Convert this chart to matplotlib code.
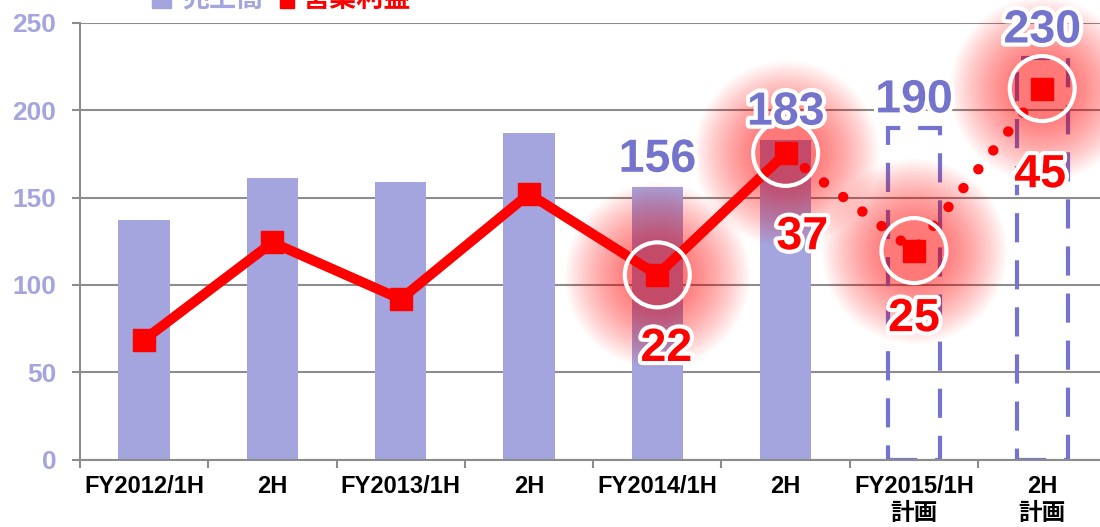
import matplotlib
matplotlib.use("Agg")
import matplotlib.pyplot as plt
import matplotlib.patheffects as pe
from matplotlib.patches import Rectangle
import numpy as np

# data
periods = ["FY2012/1H", "2H", "FY2013/1H", "2H", "FY2014/1H", "2H",
           "FY2015/1H\n計画", "2H\n計画"]
sales_actual = [137, 161, 159, 187, 156, 183]
sales_plan = [190, 230]
profit = [14, 26, 19, 32, 22, 37, 25, 45]
sales_shown = [4, 5, 6, 7]      # bars with a value label
profit_shown = [4, 5, 6, 7]     # line points with a value label
legend_labels = ["売上高", "営業利益"]

bar_col = "#a4a4de"
plan_col = "#7474d0"
lab_col = "#7474cc"
red = "#ff0000"
grid_col = "#8c8c8c"

jp = ["Liberation Sans", "Noto Sans CJK JP", "DejaVu Sans"]

fig = plt.figure(figsize=(11, 5.27), dpi=100)
ax = fig.add_axes([0.0727, 0.1277, 0.9331, 0.829])

x = np.arange(len(periods))
n_act = len(sales_actual)
ax.bar(x[:n_act], sales_actual, width=0.4, color=bar_col, zorder=2)
ax.bar(x[n_act:], sales_plan, width=0.4, fill=False, edgecolor=plan_col,
       linewidth=3, linestyle=(0, (7, 4.3)), zorder=2)

ax.set_xlim(-0.5, len(periods) - 0.5)
ax.set_ylim(0, 250)
ax.set_yticks(np.arange(0, 251, 50))
ax.grid(axis="y", color=grid_col, linewidth=1.5, zorder=0)
ax.set_axisbelow(True)
for s in ["top", "right"]:
    ax.spines[s].set_visible(False)
for s in ["left", "bottom"]:
    ax.spines[s].set_color(grid_col)
    ax.spines[s].set_linewidth(1.5)

ax.set_xticks(x)
ax.set_xticklabels(periods, fontsize=17, fontweight="bold", family=jp,
                   linespacing=1.25)
ax.set_xticks(np.arange(-0.5, len(periods), 1), minor=True)
ax.tick_params(axis="x", which="major", length=0, pad=11)
ax.tick_params(axis="x", which="minor", length=6, width=1.5, color=grid_col)
ax.tick_params(axis="y", length=6, width=1.5, color=grid_col, pad=11,
               labelcolor=bar_col, labelsize=19)
for t in ax.get_yticklabels():
    t.set_fontweight("bold")
    t.set_family("Liberation Sans")

# profit on a hidden second scale
ax2 = ax.twinx()
ax2.set_ylim(-0.82, 53.12)
ax2.axis("off")

px = x[profit_shown]
py = np.array(profit)[profit_shown]
for d in np.linspace(185, 60, 28):
    ax2.scatter(px, py, s=(d * 0.72) ** 2, color=red, alpha=0.022,
                linewidths=0, zorder=1, clip_on=False)

ax2.plot(x[:n_act], profit[:n_act], color=red, linewidth=7.2, zorder=3,
         solid_joinstyle="miter")
ax2.plot(x[n_act - 1:], profit[n_act - 1:], color=red, linewidth=7.5,
         linestyle=(0, (0.01, 2.3)), dash_capstyle="round", zorder=3)
ax2.plot(x, profit, linestyle="none", marker="s", markersize=15.8,
         color=red, zorder=4)
ax2.scatter(px, py, s=(65 * 0.72) ** 2, facecolors="none",
            edgecolors="white", linewidths=3, zorder=5, clip_on=False)

stroke = [pe.withStroke(linewidth=6, foreground="white")]
all_sales = sales_actual + sales_plan
for i in sales_shown:
    ax2.annotate(str(all_sales[i]), xy=(x[i], all_sales[i]),
                 xycoords=ax.transData, xytext=(0, 11),
                 textcoords="offset points", ha="center", va="baseline",
                 fontsize=33.5, fontweight="bold", color=lab_col,
                 family="Liberation Sans", path_effects=stroke, zorder=6)

red_off = [(6.5, -62), (12, -69), (0, -58), (-1.5, -71)]
for (dx, dy), i in zip(red_off, profit_shown):
    ax2.annotate(str(profit[i]), xy=(x[i], profit[i]), xytext=(dx, dy),
                 textcoords="offset points", ha="center", va="baseline",
                 fontsize=33.5, fontweight="bold", color=red,
                 family="Liberation Sans", path_effects=stroke, zorder=6)

# legend, cut off at the top edge like the source
fig.add_artist(Rectangle((152 / 1100, 1 - 8 / 527), 19 / 1100, 20 / 527,
                         transform=fig.transFigure, color=bar_col))
fig.text(182 / 1100, 1 - 7 / 527, legend_labels[0], fontsize=19.5,
         fontweight="bold", color=bar_col, family=jp[1:], va="baseline")
fig.add_artist(Rectangle((280 / 1100, 1 - 8 / 527), 14 / 1100, 20 / 527,
                         transform=fig.transFigure, color=red))
fig.text(303 / 1100, 1 - 7 / 527, legend_labels[1], fontsize=19.5,
         fontweight="bold", color=red, family=jp[1:], va="baseline")

fig.savefig("out.png", dpi=100)
